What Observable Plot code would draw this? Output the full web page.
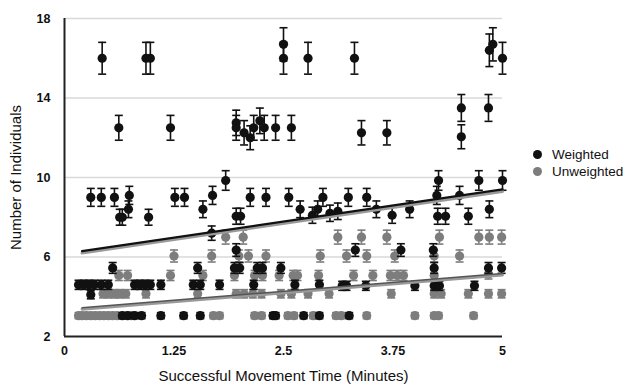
<!DOCTYPE html>
<html>
<head>
<meta charset="utf-8">
<script src="https://cdn.jsdelivr.net/npm/d3@7"></script>
<script src="https://cdn.jsdelivr.net/npm/@observablehq/plot@0.6"></script>
<style>
  html, body { margin: 0; padding: 0; background: #fff; }
  #wrap { position: relative; width: 627px; height: 384px; font-family: "Liberation Sans", Arial, sans-serif; }
  #legend { position: absolute; left: 533px; top: 146px; font-size: 13.5px; color: #111; line-height: 17px; }
  #legend .item { display: flex; align-items: center; white-space: nowrap; }
  #legend .sw { width: 9px; height: 9px; border-radius: 50%; margin-right: 10px; }
  .axis-ticks text { font-weight: 600; }
</style>
</head>
<body>
<div id="wrap"><div id="legend"></div></div>
<script>
// ---- Data ----
const seriesNames = ["Weighted", "Unweighted"];
const seriesColors = ["#111111", "#7d7d7d"];

const xTicks = [0, 1.25, 2.5, 3.75, 5];
const xTickLabels = ["0", "1.25", "2.5", "3.75", "5"];
const yTicks = [2, 6, 10, 14, 18];

const weightedX = [
  0.43, 0.93, 0.98, 2.50, 2.50, 2.78, 3.31, 4.85, 4.89, 5.00,
  0.62, 1.21, 1.96, 1.96, 2.05, 2.12, 2.16, 2.23, 2.28, 2.41, 2.59, 3.39, 3.68, 4.53, 4.53, 4.84,
  0.30, 0.42, 0.57, 0.74, 0.63, 0.66, 0.73, 0.96, 1.26, 1.37, 1.58, 1.69, 1.84, 1.96, 2.01, 2.12, 2.30, 1.68,
  2.56, 2.69, 2.83, 2.89, 2.95, 3.03, 3.12, 3.24, 3.45, 3.56, 3.74, 3.94,
  4.27, 4.25, 4.26, 4.35, 4.51, 4.61, 4.73, 4.85, 5.00,
  0.55, 1.52, 1.94, 2.00, 2.20, 2.26, 2.47, 4.22, 4.84, 4.99,
  1.96, 3.32, 3.84, 4.21,
  0.16, 0.22, 0.28, 0.34, 0.42, 0.50, 0.80, 0.86, 0.92, 0.98, 1.10, 1.47, 1.55, 1.77, 2.16, 2.63, 2.91, 3.17, 3.22, 3.44, 4.00, 4.22, 4.28, 4.68,
  0.30,
  0.66, 0.72, 0.80, 0.88, 1.10, 1.36, 1.55, 2.38, 2.41, 2.73, 2.91, 3.25
];
const weightedY = [
  16, 16, 16, 16, 16.7, 16, 16, 16.4, 16.7, 16,
  12.5, 12.5, 12.75, 12.5, 12.25, 12.0, 12.5, 12.85, 12.5, 12.5, 12.5, 12.25, 12.25, 13.5, 12.05, 13.5,
  9, 9, 9, 9.1, 8.0, 8.0, 8.4, 8.0, 9, 9, 8.4, 9.1, 9.85, 8.05, 8.05, 9, 9, 7.2,
  9, 8.4, 8.1, 8.4, 9, 8.2, 8.3, 9, 9, 8.4, 8.1, 8.4,
  9.85, 9.1, 8.05, 8.05, 9.1, 8.05, 9.85, 8.4, 9.85,
  5.45, 5.45, 5.45, 5.45, 5.45, 5.45, 5.45, 5.45, 5.45, 5.45,
  6.35, 6.35, 6.35, 6.35,
  4.6, 4.6, 4.6, 4.6, 4.6, 4.6, 4.6, 4.6, 4.6, 4.6, 4.6, 4.6, 4.6, 4.6, 4.6, 4.6, 4.6, 4.55, 4.55, 4.55, 4.55, 4.55, 4.55, 4.55,
  4.1,
  3.05, 3.05, 3.05, 3.05, 3.05, 3.05, 3.05, 3.05, 3.05, 3.05, 3.05, 3.05
];

const unweightedX = [
  0.16, 0.20, 0.25, 0.30, 0.35, 0.40, 0.45, 0.50, 0.55, 0.60, 0.76, 1.70, 1.77, 2.17, 2.25, 2.55, 2.62, 2.84, 3.10, 3.16, 3.45, 4.00, 4.22, 4.27, 4.67,
  0.44, 0.50, 0.57, 0.63, 0.70, 0.93, 1.52, 1.96, 2.05, 2.15, 2.25, 2.47, 2.59, 2.78, 3.02, 3.73, 4.22, 4.30, 4.61, 4.84, 4.99,
  0.62, 0.72, 1.21, 1.58, 1.94, 2.17, 2.26, 2.45, 2.61, 2.66, 2.90, 3.30, 3.52, 3.72, 3.80, 3.87, 4.22, 4.84,
  1.25, 1.68, 1.99, 2.10, 2.30, 2.92, 3.22, 3.45, 3.77, 4.22, 4.51,
  1.84, 2.04, 3.12, 3.39, 3.68, 4.28, 4.73, 4.85, 4.99
];
const unweightedY = [
  3.05, 3.05, 3.05, 3.05, 3.05, 3.05, 3.05, 3.05, 3.05, 3.05, 3.05, 3.05, 3.05, 3.05, 3.05, 3.05, 3.05, 3.05, 3.05, 3.05, 3.05, 3.05, 3.05, 3.05, 3.05,
  4.15, 4.15, 4.15, 4.15, 4.15, 4.15, 4.15, 4.15, 4.15, 4.15, 4.15, 4.15, 4.15, 4.15, 4.15, 4.15, 4.15, 4.15, 4.15, 4.15, 4.15,
  5.07, 5.07, 5.07, 5.07, 5.07, 5.07, 5.07, 5.07, 5.07, 5.07, 5.07, 5.07, 5.07, 5.07, 5.07, 5.07, 5.07, 5.15,
  6.05, 6.05, 6.05, 6.05, 6.05, 6.05, 6.05, 6.05, 6.05, 6.05, 6.05,
  7.0, 7.0, 7.0, 7.0, 7.0, 7.0, 7.0, 7.0, 7.0
];

// Percentage error bars (as in the source chart)
const errorFraction = 0.05;

// Linear trend lines
const trendX = [0.2, 5];
const weightedTrend = [6.3, 9.4];
const unweightedTrend = [3.45, 5.17];

// ---- Build tables ----
const weighted = weightedX.map((x, i) => ({x, y: weightedY[i]}));
const unweighted = unweightedX.map((x, i) => ({x, y: unweightedY[i]}));
const wTrend = trendX.map((x, i) => ({x, y: weightedTrend[i]}));
const uTrend = trendX.map((x, i) => ({x, y: unweightedTrend[i]}));

const capSymbol = {
  draw(context, size) {
    const w = Math.sqrt(size / Math.PI);
    context.moveTo(-w, 0);
    context.lineTo(w, 0);
  }
};

function errorMarks(data, color) {
  return [
    Plot.ruleX(data, {x: "x", y1: d => d.y * (1 - errorFraction), y2: d => d.y * (1 + errorFraction), stroke: color, strokeWidth: 1.6}),
    Plot.dot(data, {x: "x", y: d => d.y * (1 + errorFraction), symbol: capSymbol, r: 4, stroke: color, strokeWidth: 1.6, fill: "none"}),
    Plot.dot(data, {x: "x", y: d => d.y * (1 - errorFraction), symbol: capSymbol, r: 4, stroke: color, strokeWidth: 1.6, fill: "none"}),
    Plot.dot(data, {x: "x", y: "y", r: 4.6, fill: color, stroke: "none"})
  ];
}

const chart = Plot.plot({
  width: 627,
  height: 384,
  marginLeft: 64,
  marginRight: 125,
  marginTop: 18,
  marginBottom: 48,
  style: {fontFamily: "Liberation Sans, Arial, sans-serif", fontSize: "12.5px", color: "#111", background: "#fff"},
  x: {domain: [0, 5]},
  y: {domain: [2, 18]},
  marks: [
    Plot.gridY(yTicks.slice(1), {stroke: "#d9d9d9", strokeOpacity: 1, strokeWidth: 1.5}),
    Plot.axisX({ticks: xTicks, tickFormat: d => xTickLabels[xTicks.indexOf(d)], tickSize: 0, tickPadding: 10,
      className: "axis-ticks", fontSize: 12.5, label: null}),
    Plot.axisY({ticks: yTicks, tickSize: 0, tickPadding: 14,
      className: "axis-ticks", fontSize: 12.5, label: null}),
    Plot.axisX({ticks: [], label: "Successful Movement Time (Minutes)", labelAnchor: "center", labelArrow: "none", labelOffset: 44, fontSize: 15, tickSize: 0}),
    Plot.axisY({ticks: [], label: "Number of Individuals", labelAnchor: "center", labelArrow: "none", labelOffset: 54, fontSize: 15, tickSize: 0}),
    ...errorMarks(unweighted, seriesColors[1]),
    ...errorMarks(weighted, seriesColors[0]),
    Plot.line(uTrend, {x: "x", y: "y", stroke: "#999", strokeWidth: 3, dy: 1.5}),
    Plot.line(uTrend, {x: "x", y: "y", stroke: "#555", strokeWidth: 1.5}),
    Plot.line(wTrend, {x: "x", y: "y", stroke: "#999", strokeWidth: 3, dy: 2}),
    Plot.line(wTrend, {x: "x", y: "y", stroke: "#111", strokeWidth: 2.2}),
    Plot.ruleX([0], {stroke: "#222", strokeWidth: 2}),
    Plot.ruleY([2], {stroke: "#222", strokeWidth: 2})
  ]
});

const wrap = document.getElementById("wrap");
wrap.insertBefore(chart, wrap.firstChild);

const legend = document.getElementById("legend");
seriesNames.forEach((name, i) => {
  const item = document.createElement("div");
  item.className = "item";
  const sw = document.createElement("span");
  sw.className = "sw";
  sw.style.background = seriesColors[i];
  const label = document.createElement("span");
  label.textContent = name;
  item.appendChild(sw);
  item.appendChild(label);
  legend.appendChild(item);
});
</script>
</body>
</html>
